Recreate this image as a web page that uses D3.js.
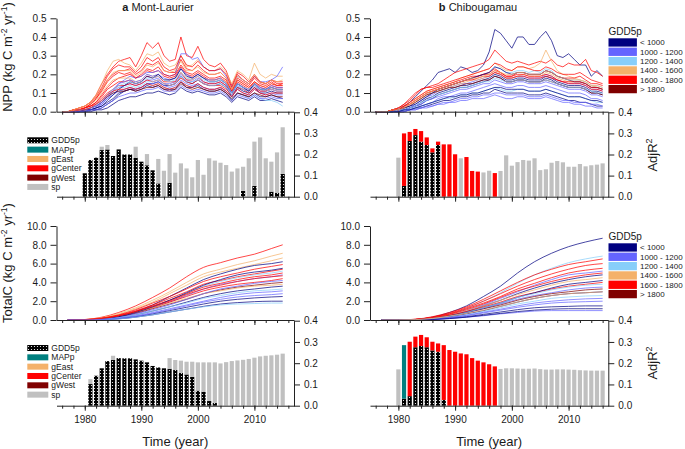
<!DOCTYPE html>
<html><head><meta charset="utf-8">
<script src="https://cdn.jsdelivr.net/npm/d3@7"></script>
<style>
body{margin:0;background:#fff;}
svg text{font-family:Arial,"Liberation Sans",sans-serif;fill:#1a1a1a;}
</style></head><body>
<svg id="chart" width="685" height="449"></svg>
<script>
// ---------------- DATA ----------------
const gddClasses = ["< 1000","1000 - 1200","1200 - 1400","1400 - 1600","1600 - 1800","> 1800"];
const gddColors  = ["#000080","#6464FF","#87CEFA","#F4B16A","#FF0000","#800000"];
const barLegend  = ["GDD5p","MAPp","gEast","gCenter","gWest","sp"];
const yearTicks  = [1980,1990,2000,2010];
const nppTicks   = [0,0.1,0.2,0.3,0.4,0.5];
const tcTicks    = [0,2,4,6,8,10];
const r2Ticks    = [0,0.1,0.2,0.3,0.4];

// NPP lines, Mont-Laurier, 1976-2015
const nppYearsA = [1976,1977,1978,1979,1980,1981,1982,1983,1984,1985,1986,1987,1988,1989,1990,1991,1992,1993,1994,1995,1996,1997,1998,1999,2000,2001,2002,2003,2004,2005,2006,2007,2008,2009,2010,2011,2012,2013,2014,2015];
const nppA_class = [4,3,4,4,1,0,0,2,1,4,3,0,1,4,5,2,4,1,4,0,2,4,1,3];
const nppA_values = [
[.00,.00,.01,.02,.03,.05,.09,.15,.20,.24,.27,.28,.29,.24,.30,.37,.34,.37,.30,.27,.28,.40,.30,.29,.35,.28,.25,.24,.26,.22,.14,.21,.19,.16,.20,.16,.15,.17,.15,.15],
[.00,.00,.01,.02,.03,.05,.09,.15,.22,.27,.28,.26,.25,.22,.26,.31,.30,.32,.26,.24,.25,.30,.24,.25,.28,.24,.22,.22,.24,.21,.15,.22,.20,.17,.26,.20,.18,.20,.19,.19],
[.00,.00,.01,.01,.02,.04,.07,.12,.17,.20,.22,.22,.23,.20,.22,.26,.25,.27,.22,.21,.21,.28,.23,.22,.25,.22,.20,.20,.21,.18,.12,.18,.16,.14,.18,.15,.14,.16,.14,.15],
[.00,.00,.00,.01,.02,.03,.05,.09,.13,.16,.18,.19,.20,.18,.19,.22,.21,.22,.19,.18,.19,.24,.20,.19,.21,.19,.17,.17,.18,.16,.11,.16,.14,.12,.16,.13,.12,.14,.13,.13],
[.00,.00,.00,.00,.01,.01,.02,.04,.07,.11,.15,.17,.19,.18,.19,.21,.21,.22,.20,.19,.20,.31,.31,.28,.29,.24,.22,.22,.23,.19,.13,.19,.17,.15,.19,.16,.16,.17,.19,.24],
[.00,.00,.00,.00,.00,.01,.01,.02,.04,.06,.09,.11,.12,.12,.13,.15,.15,.16,.14,.14,.15,.19,.16,.15,.17,.15,.14,.14,.15,.13,.08,.13,.11,.10,.13,.10,.10,.11,.10,.10],
[.00,.00,.00,.00,.00,.00,.01,.01,.02,.04,.06,.07,.08,.08,.09,.10,.10,.11,.10,.09,.10,.13,.11,.10,.11,.10,.09,.09,.10,.08,.05,.08,.07,.06,.08,.06,.06,.07,.06,.05],
[.00,.00,.00,.01,.01,.02,.03,.05,.07,.10,.11,.12,.13,.12,.13,.15,.14,.15,.13,.12,.13,.16,.14,.13,.15,.13,.12,.12,.13,.11,.07,.10,.09,.07,.09,.07,.06,.06,.05,.03],
[.00,.00,.00,.01,.01,.02,.03,.05,.08,.11,.13,.14,.15,.14,.15,.17,.17,.18,.15,.15,.16,.20,.17,.16,.18,.16,.15,.15,.16,.14,.09,.14,.12,.11,.14,.11,.11,.12,.11,.11],
[.00,.00,.00,.01,.02,.03,.05,.08,.12,.14,.16,.16,.17,.15,.16,.19,.18,.19,.16,.16,.16,.21,.17,.17,.19,.16,.15,.15,.16,.14,.10,.15,.13,.11,.15,.12,.11,.13,.12,.12],
[.00,.00,.01,.01,.02,.04,.06,.10,.14,.17,.18,.18,.18,.16,.17,.20,.19,.20,.17,.17,.18,.21,.18,.18,.20,.18,.17,.17,.18,.16,.11,.17,.15,.13,.16,.14,.13,.15,.14,.14],
[.00,.00,.00,.00,.01,.01,.02,.03,.05,.07,.10,.11,.12,.11,.12,.14,.13,.14,.12,.12,.12,.16,.13,.13,.14,.12,.11,.11,.12,.10,.06,.10,.09,.08,.10,.08,.08,.09,.08,.07],
[.00,.00,.00,.00,.01,.02,.03,.04,.07,.09,.11,.12,.13,.12,.13,.15,.15,.16,.14,.13,.14,.17,.15,.14,.15,.13,.12,.12,.13,.11,.08,.12,.10,.09,.12,.10,.09,.10,.09,.09],
[.00,.00,.00,.01,.02,.03,.04,.07,.10,.12,.14,.14,.15,.14,.15,.17,.16,.17,.15,.14,.15,.18,.16,.15,.17,.15,.14,.14,.14,.12,.09,.13,.12,.10,.13,.11,.11,.12,.11,.11],
[.00,.00,.00,.01,.01,.02,.03,.05,.08,.10,.11,.11,.12,.11,.12,.13,.13,.14,.12,.11,.12,.15,.13,.12,.13,.12,.11,.11,.12,.10,.07,.10,.09,.08,.10,.09,.08,.09,.08,.08],
[.00,.00,.00,.01,.01,.02,.03,.06,.09,.11,.13,.13,.14,.13,.14,.16,.16,.17,.15,.14,.15,.19,.16,.16,.17,.15,.14,.14,.15,.13,.09,.14,.12,.11,.14,.12,.11,.12,.11,.11],
[.00,.00,.01,.02,.03,.05,.08,.13,.19,.23,.25,.24,.24,.21,.24,.29,.27,.29,.24,.22,.23,.30,.25,.24,.27,.24,.22,.22,.23,.20,.13,.20,.17,.15,.19,.16,.15,.17,.16,.16],
[.00,.00,.00,.00,.01,.02,.03,.05,.09,.12,.15,.16,.17,.16,.17,.20,.19,.20,.18,.17,.18,.23,.20,.18,.20,.18,.17,.17,.18,.15,.10,.15,.13,.12,.15,.13,.12,.14,.13,.13],
[.00,.00,.01,.01,.02,.04,.07,.11,.16,.19,.21,.20,.21,.18,.20,.23,.22,.24,.20,.19,.20,.25,.21,.20,.22,.20,.18,.18,.19,.17,.11,.17,.15,.13,.16,.14,.13,.15,.14,.14],
[.00,.00,.00,.00,.01,.01,.02,.03,.06,.09,.12,.14,.16,.15,.16,.19,.18,.20,.17,.17,.18,.23,.19,.18,.20,.18,.16,.16,.17,.15,.10,.15,.13,.11,.15,.12,.12,.13,.12,.12],
[.00,.00,.00,.01,.01,.02,.04,.06,.09,.12,.14,.15,.16,.15,.16,.18,.18,.19,.17,.16,.17,.21,.18,.17,.19,.17,.16,.16,.17,.15,.10,.15,.13,.12,.15,.12,.12,.13,.12,.12],
[.00,.00,.00,.01,.01,.02,.04,.06,.09,.11,.12,.12,.13,.12,.13,.15,.14,.15,.13,.12,.13,.16,.14,.13,.15,.13,.12,.12,.13,.11,.08,.12,.10,.09,.12,.10,.09,.10,.10,.10],
[.00,.00,.00,.00,.00,.01,.01,.02,.04,.06,.08,.09,.10,.10,.11,.12,.12,.13,.11,.11,.11,.14,.12,.11,.12,.11,.10,.10,.11,.09,.06,.09,.08,.07,.09,.07,.07,.08,.07,.07],
[.00,.00,.01,.02,.03,.05,.08,.12,.17,.21,.22,.22,.22,.19,.21,.25,.24,.26,.22,.21,.22,.27,.22,.22,.24,.21,.20,.20,.21,.18,.12,.19,.17,.15,.20,.16,.15,.17,.16,.17]
];

// NPP lines, Chibougamau, 1976-2016
const nppYearsB = [1976,1977,1978,1979,1980,1981,1982,1983,1984,1985,1986,1987,1988,1989,1990,1991,1992,1993,1994,1995,1996,1997,1998,1999,2000,2001,2002,2003,2004,2005,2006,2007,2008,2009,2010,2011,2012,2013,2014,2015,2016];
const nppB_class = [0,4,3,2,1,0,4,1,0,2,3,1,4,0,5,1,4,0,4,1,2,0,3];
const nppB_values = [
[.00,.00,.00,.01,.02,.03,.05,.08,.11,.14,.17,.21,.22,.23,.21,.24,.23,.21,.22,.25,.32,.44,.42,.38,.34,.40,.40,.36,.36,.40,.43,.38,.30,.29,.31,.28,.25,.25,.19,.22,.19],
[.00,.00,.00,.01,.02,.04,.06,.09,.12,.13,.14,.15,.17,.19,.21,.22,.23,.24,.25,.26,.28,.33,.30,.27,.26,.27,.26,.25,.26,.27,.26,.28,.25,.24,.26,.25,.25,.28,.22,.21,.19],
[.00,.00,.00,.01,.02,.03,.05,.07,.09,.11,.12,.13,.14,.15,.16,.18,.19,.20,.21,.22,.23,.26,.24,.22,.22,.24,.24,.23,.24,.26,.33,.27,.22,.20,.19,.18,.17,.16,.14,.13,.12],
[.00,.00,.00,.00,.01,.02,.03,.05,.07,.09,.11,.12,.13,.14,.15,.16,.17,.18,.19,.20,.21,.24,.23,.21,.21,.22,.22,.21,.22,.21,.23,.22,.19,.18,.17,.17,.17,.16,.14,.14,.13],
[.00,.00,.00,.00,.01,.01,.02,.04,.06,.08,.09,.11,.12,.13,.14,.15,.15,.16,.17,.18,.19,.21,.20,.18,.18,.19,.19,.18,.18,.18,.20,.19,.17,.16,.15,.15,.15,.14,.12,.12,.11],
[.00,.00,.00,.00,.00,.01,.02,.03,.04,.06,.07,.09,.10,.11,.12,.13,.13,.14,.15,.16,.17,.19,.18,.16,.16,.17,.17,.16,.16,.16,.18,.17,.15,.14,.13,.13,.13,.12,.10,.10,.09],
[.00,.00,.00,.01,.01,.02,.04,.06,.08,.10,.11,.12,.13,.14,.15,.16,.17,.18,.19,.20,.21,.23,.21,.19,.19,.21,.21,.20,.20,.20,.22,.21,.19,.18,.18,.18,.19,.17,.15,.15,.14],
[.00,.00,.00,.00,.00,.01,.01,.02,.03,.04,.05,.07,.08,.08,.09,.10,.10,.11,.12,.13,.14,.15,.14,.13,.13,.14,.14,.13,.13,.13,.14,.13,.12,.11,.10,.10,.10,.09,.07,.07,.06],
[.00,.00,.00,.00,.00,.00,.01,.02,.02,.03,.04,.05,.06,.06,.07,.08,.08,.09,.09,.10,.10,.12,.11,.10,.10,.10,.10,.09,.09,.09,.10,.09,.08,.07,.06,.06,.05,.05,.04,.03,.03],
[.00,.00,.00,.00,.00,.01,.01,.02,.03,.04,.05,.06,.07,.07,.08,.09,.09,.10,.10,.11,.12,.13,.12,.11,.11,.12,.12,.11,.11,.11,.12,.11,.10,.09,.08,.08,.08,.07,.06,.05,.05],
[.00,.00,.00,.01,.01,.02,.04,.05,.07,.09,.10,.11,.12,.13,.14,.15,.16,.17,.17,.18,.19,.21,.20,.18,.18,.19,.20,.19,.19,.19,.21,.20,.18,.17,.16,.16,.16,.15,.13,.13,.12],
[.00,.00,.00,.00,.00,.00,.01,.01,.02,.02,.03,.04,.04,.05,.05,.06,.06,.07,.07,.07,.08,.09,.08,.07,.07,.08,.08,.07,.07,.07,.08,.07,.06,.05,.05,.04,.04,.03,.03,.02,.02],
[.00,.00,.00,.01,.01,.03,.05,.07,.09,.11,.12,.13,.14,.15,.16,.17,.18,.19,.19,.20,.20,.22,.21,.19,.19,.20,.20,.19,.19,.19,.20,.19,.17,.16,.15,.15,.15,.14,.12,.12,.11],
[.00,.00,.00,.00,.01,.01,.02,.03,.05,.07,.08,.10,.11,.12,.13,.14,.14,.15,.16,.17,.18,.20,.19,.17,.17,.18,.18,.17,.17,.17,.19,.18,.16,.15,.14,.14,.14,.13,.11,.11,.10],
[.00,.00,.00,.01,.01,.02,.03,.05,.07,.09,.10,.11,.12,.13,.13,.14,.15,.15,.16,.17,.17,.19,.18,.16,.16,.17,.17,.16,.16,.16,.17,.16,.15,.14,.13,.13,.13,.12,.10,.10,.09],
[.00,.00,.00,.00,.01,.01,.02,.03,.04,.06,.07,.08,.09,.10,.11,.12,.12,.13,.14,.15,.15,.17,.16,.15,.15,.16,.16,.15,.15,.15,.16,.15,.14,.13,.12,.12,.12,.11,.09,.09,.08],
[.00,.00,.00,.01,.02,.04,.07,.10,.12,.13,.13,.14,.15,.16,.17,.18,.19,.20,.21,.22,.23,.26,.25,.23,.22,.24,.24,.23,.22,.22,.24,.23,.21,.20,.20,.20,.21,.19,.17,.16,.15],
[.00,.00,.00,.00,.01,.02,.03,.04,.06,.08,.10,.12,.13,.14,.15,.16,.17,.18,.19,.20,.21,.24,.23,.21,.20,.21,.21,.20,.20,.20,.22,.21,.19,.18,.17,.16,.16,.15,.13,.13,.12],
[.00,.00,.00,.01,.01,.03,.04,.06,.08,.10,.11,.12,.13,.14,.15,.16,.17,.17,.18,.19,.19,.21,.20,.18,.18,.19,.19,.18,.18,.18,.19,.18,.17,.16,.16,.16,.16,.15,.13,.13,.12],
[.00,.00,.00,.00,.00,.00,.01,.01,.02,.03,.03,.04,.05,.05,.06,.07,.07,.08,.08,.09,.09,.10,.10,.09,.09,.09,.09,.08,.08,.08,.09,.08,.07,.06,.06,.05,.05,.05,.04,.04,.03],
[.00,.00,.00,.00,.01,.01,.02,.03,.05,.06,.08,.09,.10,.11,.12,.13,.13,.14,.15,.16,.16,.18,.17,.16,.16,.17,.17,.16,.16,.16,.17,.16,.15,.14,.13,.13,.13,.12,.11,.10,.10],
[.00,.00,.00,.00,.00,.01,.01,.02,.03,.04,.05,.06,.07,.08,.08,.09,.09,.10,.10,.11,.12,.13,.13,.12,.12,.12,.12,.11,.11,.11,.12,.11,.10,.09,.08,.08,.08,.07,.06,.06,.05],
[.00,.00,.00,.01,.01,.02,.04,.06,.08,.10,.11,.12,.13,.14,.15,.16,.17,.18,.18,.19,.20,.22,.21,.20,.20,.21,.21,.20,.20,.20,.22,.21,.19,.18,.17,.17,.17,.16,.14,.14,.13]
];

// TotalC lines, Mont-Laurier
const tcYearsA = [1977,1980,1983,1986,1989,1992,1995,1998,2001,2004,2007,2010,2013,2015];
const tcA_class = [4,3,3,0,4,4,2,1,4,5,0,1,3,0,0,2,4,1,0,2,4,1];
const tcA_values = [
[0,.05,.3,.8,1.5,2.4,3.4,4.6,5.6,6.1,6.6,7.0,7.6,8.0],
[0,.05,.25,.7,1.3,2.1,3.0,4.0,4.9,5.4,5.9,6.3,6.8,7.1],
[0,.04,.22,.6,1.2,1.9,2.8,3.7,4.6,5.1,5.5,5.9,6.3,6.6],
[0,0,.1,.4,.9,1.6,2.5,3.4,4.3,4.9,5.4,5.8,6.0,6.2],
[0,.04,.2,.55,1.1,1.8,2.5,3.3,4.1,4.6,5.0,5.4,5.7,5.9],
[0,.03,.18,.5,1.0,1.6,2.3,3.0,3.8,4.2,4.6,4.9,5.2,5.4],
[0,.02,.12,.4,.8,1.4,2.1,2.8,3.6,4.1,4.5,4.8,5.0,5.2],
[0,.01,.1,.35,.75,1.3,1.9,2.6,3.3,3.8,4.1,4.4,4.6,4.8],
[0,.02,.15,.4,.8,1.3,1.9,2.5,3.1,3.5,3.8,4.0,4.2,4.4],
[0,.02,.12,.35,.7,1.2,1.7,2.2,2.8,3.2,3.5,3.7,3.9,4.0],
[0,0,.06,.25,.55,.95,1.4,1.9,2.4,2.8,3.1,3.3,3.5,3.6],
[0,0,.05,.2,.45,.8,1.2,1.6,2.0,2.4,2.7,2.9,3.0,3.1],
[0,.03,.15,.4,.8,1.3,1.8,2.3,2.8,3.1,3.4,3.6,3.7,3.8],
[0,0,.04,.15,.35,.65,1.0,1.35,1.7,2.0,2.2,2.35,2.45,2.5],
[0,0,.03,.12,.3,.55,.85,1.15,1.45,1.7,1.85,1.95,2.0,2.0],
[0,0,.03,.12,.3,.55,.85,1.15,1.4,1.6,1.7,1.75,1.8,1.8],
[0,.03,.16,.45,.9,1.5,2.1,2.8,3.5,3.9,4.3,4.6,4.8,5.0],
[0,.01,.08,.3,.65,1.1,1.6,2.2,2.8,3.3,3.6,3.9,4.1,4.2],
[0,0,.08,.35,.8,1.4,2.1,2.9,3.7,4.3,4.8,5.1,5.3,5.5],
[0,.01,.08,.25,.55,.95,1.4,1.8,2.3,2.6,2.9,3.1,3.2,3.3],
[0,.03,.16,.45,.9,1.45,2.0,2.7,3.3,3.7,4.1,4.4,4.6,4.7],
[0,0,.05,.18,.4,.72,1.1,1.5,1.9,2.2,2.45,2.6,2.7,2.8]
];

// TotalC lines, Chibougamau
const tcYearsB = [1977,1980,1983,1986,1989,1992,1995,1998,2001,2004,2007,2010,2013,2016];
const tcB_class = [0,2,4,4,4,1,0,3,4,1,0,5,2,1,0,1,0,4,1,2,0,3];
const tcB_values = [
[0,0,.05,.3,.8,1.5,2.5,3.6,5.0,6.2,7.1,7.8,8.3,8.7],
[0,0,.05,.25,.6,1.2,2.0,2.9,3.9,4.8,5.5,6.1,6.5,6.8],
[0,.01,.08,.35,.8,1.4,2.2,3.1,4.0,4.8,5.4,5.9,6.2,6.5],
[0,.01,.07,.3,.7,1.3,2.0,2.8,3.6,4.3,4.9,5.4,5.8,6.0],
[0,.01,.06,.28,.65,1.2,1.8,2.5,3.3,3.9,4.5,5.0,5.3,5.5],
[0,0,.04,.2,.5,1.0,1.6,2.3,3.0,3.7,4.3,4.8,5.0,5.2],
[0,0,.03,.18,.45,.9,1.5,2.1,2.8,3.4,3.9,4.3,4.6,4.8],
[0,.01,.05,.22,.55,1.0,1.5,2.1,2.7,3.2,3.7,4.1,4.3,4.5],
[0,.01,.05,.2,.5,.9,1.4,1.9,2.5,2.9,3.3,3.6,3.8,4.0],
[0,0,.03,.15,.4,.75,1.2,1.7,2.2,2.6,2.9,3.2,3.4,3.5],
[0,0,.02,.12,.32,.65,1.0,1.45,1.9,2.3,2.6,2.8,2.9,3.0],
[0,.01,.04,.18,.45,.8,1.2,1.6,2.1,2.5,2.8,3.0,3.2,3.3],
[0,0,.02,.1,.3,.55,.9,1.3,1.7,2.0,2.3,2.45,2.55,2.6],
[0,0,.02,.08,.25,.45,.75,1.05,1.35,1.6,1.8,1.9,1.95,2.0],
[0,0,.01,.06,.18,.35,.6,.85,1.1,1.3,1.4,1.45,1.5,1.5],
[0,0,.01,.05,.15,.3,.45,.65,.8,.95,1.0,1.0,1.0,1.0],
[0,0,.03,.15,.4,.8,1.3,1.8,2.4,2.9,3.4,3.8,4.0,4.2],
[0,.01,.06,.25,.6,1.1,1.7,2.4,3.1,3.6,4.1,4.5,4.8,5.0],
[0,0,.02,.09,.27,.5,.82,1.15,1.5,1.8,2.0,2.15,2.25,2.3],
[0,0,.03,.16,.42,.8,1.3,1.8,2.4,2.8,3.2,3.5,3.7,3.8],
[0,0,.01,.05,.15,.3,.5,.7,.9,1.05,1.15,1.2,1.2,1.2],
[0,.01,.04,.16,.4,.7,1.05,1.45,1.9,2.3,2.6,2.8,2.9,3.0]
];

// AdjR2 bars (stacked components)
const barYearsA1 = [1980,1981,1982,1983,1984,1985,1986,1987,1988,1989,1990,1991,1992,1993,1994,1995,1996,1997,1998,1999,2000,2001,2002,2003,2004,2005,2006,2007,2008,2009,2010,2011,2012,2013,2014,2015];
const nppA_gdd = [.111,.174,.185,.221,.224,.193,.224,.200,.200,.185,.166,.149,.125,.063,0,.066,0,0,0,0,0,0,0,0,0,0,0,0,.028,0,.051,0,0,.024,.019,.108];
const nppA_sp  = [0,0,0,.016,.021,0,0,0,0,.052,0,.053,0,.116,.123,.136,.114,.158,.134,.092,.174,.104,.182,.171,.161,.150,.119,.134,.114,.182,.210,.281,.182,.142,.191,.221];

const barYearsB = [1980,1981,1982,1983,1984,1985,1986,1987,1988,1989,1990,1991,1992,1993,1994,1995,1996,1997,1998,1999,2000,2001,2002,2003,2004,2005,2006,2007,2008,2009,2010,2011,2012,2013,2014,2015,2016];
const nppB_gdd     = [0,.051,.264,.292,.261,.245,.210,.245,0,0,0,0,0,0,0,0,0,0,0,0,0,0,0,0,0,0,0,0,0,0,0,0,0,0,0,0,0];
const nppB_gcenter = [0,.249,.043,.029,.050,.036,.019,.016,.248,.248,.201,0,.188,.122,.119,0,0,.112,0,0,0,0,0,0,0,0,0,0,0,0,0,0,0,0,0,0,0];
const nppB_sp      = [.185,0,0,0,0,0,0,0,0,0,0,.182,0,0,0,.115,.123,0,.122,.196,.147,.164,.174,.171,.182,.126,.130,.161,.169,.163,.142,.142,.155,.144,.149,.152,.158];

const barYearsA2 = [1981,1982,1983,1984,1985,1986,1987,1988,1989,1990,1991,1992,1993,1994,1995,1996,1997,1998,1999,2000,2001,2002,2003,2004,2005,2006,2007,2008,2009,2010,2011,2012,2013,2014,2015];
const tcA_gdd = [.102,.141,.176,.210,.215,.224,.223,.223,.218,.212,.204,.187,.180,.176,.174,.168,.155,.147,.136,.071,.066,.022,.013,0,0,0,0,0,0,0,0,0,0,0,0];
const tcA_sp  = [.023,0,0,0,.020,0,0,0,0,0,0,0,0,0,.050,.047,.057,.060,.071,.133,.138,.182,.191,.199,.205,.210,.213,.216,.220,.226,.232,.235,.237,.240,.245];

const tcB_gdd     = [0,.033,.045,.275,.281,.275,.260,.254,.027,0,0,0,0,0,0,0,0,0,0,0,0,0,0,0,0,0,0,0,0,0,0,0,0,0,0,0,0];
const tcB_mapp    = [0,.252,0,0,0,0,0,0,0,0,0,0,0,0,0,0,0,0,0,0,0,0,0,0,0,0,0,0,0,0,0,0,0,0,0,0,0];
const tcB_gcenter = [0,0,.256,.050,.052,.047,.041,.039,.258,.262,.254,.246,.242,.224,.212,.204,.195,.185,0,0,0,0,0,0,0,0,0,0,0,0,0,0,0,0,0,0,0];
const tcB_sp      = [.171,0,0,0,0,0,0,0,0,0,0,0,0,0,0,0,0,0,.173,.176,.176,.175,.174,.174,.175,.172,.170,.170,.171,.171,.170,.169,.167,.166,.165,.165,.165];

// ---------------- DRAW ----------------
const svg = d3.select("#chart");
const defs = svg.append("defs");
const pat = defs.append("pattern").attr("id","dots").attr("patternUnits","userSpaceOnUse")
  .attr("width",3).attr("height",3);
pat.append("rect").attr("width",3).attr("height",3).attr("fill","#000");
pat.append("circle").attr("cx",1.5).attr("cy",1.5).attr("r",0.6).attr("fill","#fff");

const compFill = {gdd:"url(#dots)", mapp:"#008080", geast:"#F4B16A", gcenter:"#FF0000", gwest:"#800000", sp:"#C0C0C0"};
const legendFills = [compFill.gdd, compFill.mapp, compFill.geast, compFill.gcenter, compFill.gwest, compFill.sp];

const colX0 = [56.5, 370], colX1 = [294, 608.3];
const xScales = [0,1].map(i => d3.scaleLinear().domain([1975,2017]).range([colX0[i], colX1[i]]));
const yNPP  = d3.scaleLinear().domain([0,0.5]).range([111.7,18.3]);
const yBar1 = d3.scaleLinear().domain([0,0.4]).range([196.7,112.3]);
const yTC   = d3.scaleLinear().domain([0,10]).range([320,226]);
const yBar2 = d3.scaleLinear().domain([0,0.4]).range([405.7,320.7]);
const minorYears = d3.range(1976, 2017, 2);

function styleAxis(g){
  g.selectAll("path,line").attr("stroke","#222").attr("stroke-width",1);
  g.selectAll("text").attr("font-size",10).attr("font-family","Arial, 'Liberation Sans', sans-serif").attr("fill","#1a1a1a");
}
function xAxis(x, y, labels){
  const g1 = svg.append("g").attr("transform",`translate(0,${y})`)
    .call(d3.axisBottom(x).tickValues(minorYears).tickSize(3).tickSizeOuter(0).tickFormat(""));
  styleAxis(g1);
  const g2 = svg.append("g").attr("transform",`translate(0,${y})`)
    .call(d3.axisBottom(x).tickValues(yearTicks).tickSize(5).tickSizeOuter(0).tickPadding(5)
      .tickFormat(labels ? d3.format("d") : ""));
  g2.select(".domain").remove();
  styleAxis(g2);
}
function leftAxis(x0, y, ticks){
  const g = svg.append("g").attr("transform",`translate(${x0},0)`)
    .call(d3.axisLeft(y).tickValues(ticks).tickSize(6).tickSizeOuter(0).tickPadding(4).tickFormat(d3.format(".1f")));
  styleAxis(g);
}
function rightAxis(x1, y){
  const g = svg.append("g").attr("transform",`translate(${x1},0)`)
    .call(d3.axisRight(y).tickValues(r2Ticks).tickSize(6).tickSizeOuter(0).tickPadding(4).tickFormat(d3.format(".1f")));
  styleAxis(g);
}
function drawLines(x, y, years, values, classes, curve){
  const line = d3.line().x((d,i)=>x(years[i])).y(d=>y(d)).curve(curve);
  svg.append("g").selectAll("path").data(values).join("path")
    .attr("d", line).attr("fill","none")
    .attr("stroke",(d,i)=>gddColors[classes[i]])
    .attr("stroke-width",0.85).attr("stroke-opacity",0.85);
}
function drawBars(x, y, years, comps){
  const g = svg.append("g");
  const bw = 4.2;
  years.forEach((yr,i)=>{
    let base = 0;
    comps.forEach(c=>{
      const v = c.values[i];
      if (v > 0){
        g.append("rect").attr("x", x(yr)-bw/2).attr("width", bw)
          .attr("y", y(base+v)).attr("height", y(base)-y(base+v))
          .attr("fill", c.fill);
        base += v;
      }
    });
  });
}
function barLegendAt(x, y){
  const g = svg.append("g");
  barLegend.forEach((lab,i)=>{
    g.append("rect").attr("x",x).attr("y",y+i*9.33).attr("width",21).attr("height",6).attr("fill",legendFills[i]);
    g.append("text").attr("x",x+24).attr("y",y+i*9.33+6).attr("font-size",8.5).attr("fill","#333").text(lab);
  });
}
function colorLegendAt(x, y){
  const g = svg.append("g");
  g.append("text").attr("x",x).attr("y",y).attr("font-size",10).text("GDD5p");
  gddClasses.forEach((lab,i)=>{
    g.append("rect").attr("x",x).attr("y",y+3.3+i*9.33).attr("width",28.4).attr("height",8.3).attr("fill",gddColors[i]);
    g.append("text").attr("x",x+31.5).attr("y",y+3.3+i*9.33+7).attr("font-size",8).attr("fill","#222").text(lab);
  });
}

const xa = xScales[0], xb = xScales[1];
drawLines(xa, yNPP, nppYearsA, nppA_values, nppA_class, d3.curveLinear);
drawLines(xb, yNPP, nppYearsB, nppB_values, nppB_class, d3.curveLinear);
drawLines(xa, yTC, tcYearsA, tcA_values, tcA_class, d3.curveMonotoneX);
drawLines(xb, yTC, tcYearsB, tcB_values, tcB_class, d3.curveMonotoneX);

drawBars(xa, yBar1, barYearsA1, [{values:nppA_gdd, fill:compFill.gdd},{values:nppA_sp, fill:compFill.sp}]);
drawBars(xb, yBar1, barYearsB, [{values:nppB_gdd, fill:compFill.gdd},{values:nppB_gcenter, fill:compFill.gcenter},{values:nppB_sp, fill:compFill.sp}]);
drawBars(xa, yBar2, barYearsA2, [{values:tcA_gdd, fill:compFill.gdd},{values:tcA_sp, fill:compFill.sp}]);
drawBars(xb, yBar2, barYearsB, [{values:tcB_gdd, fill:compFill.gdd},{values:tcB_mapp, fill:compFill.mapp},{values:tcB_gcenter, fill:compFill.gcenter},{values:tcB_sp, fill:compFill.sp}]);

[0,1].forEach(i=>{
  const x = xScales[i];
  xAxis(x, yNPP(0), false);
  xAxis(x, yBar1(0), false);
  xAxis(x, yTC(0), false);
  xAxis(x, yBar2(0), true);
  leftAxis(colX0[i], yNPP, nppTicks);
  leftAxis(colX0[i], yTC, tcTicks);
  rightAxis(colX1[i], yBar1);
  rightAxis(colX1[i], yBar2);
});

barLegendAt(27.3, 137.3);
barLegendAt(27.3, 345);
colorLegendAt(608.5, 35);
colorLegendAt(608.5, 240);

function title(xc, letter, name){
  const t = svg.append("text").attr("x",xc).attr("y",11).attr("text-anchor","middle").attr("font-size",11);
  t.append("tspan").attr("font-weight","bold").text(letter);
  t.append("tspan").text(" " + name);
}
title(158, "a", "Mont-Laurier");
title(478, "b", "Chibougamau");

function yTitle(x, yc, main){
  const t = svg.append("text").attr("transform",`translate(${x},${yc}) rotate(-90)`).attr("text-anchor","middle").attr("font-size",13);
  t.append("tspan").text(main + " (kg C m");
  t.append("tspan").attr("dy",-5).attr("font-size",8.5).text("-2");
  t.append("tspan").attr("dy",5).text(" yr");
  t.append("tspan").attr("dy",-5).attr("font-size",8.5).text("-1");
  t.append("tspan").attr("dy",5).text(")");
}
yTitle(12, 57, "NPP");
yTitle(12, 263, "TotalC");

function r2Title(x, yc){
  const t = svg.append("text").attr("transform",`translate(${x},${yc}) rotate(-90)`).attr("text-anchor","middle").attr("font-size",13);
  t.append("tspan").text("AdjR");
  t.append("tspan").attr("dy",-5).attr("font-size",9).text("2");
}
r2Title(657, 155);
r2Title(657, 363);

[0,1].forEach(i=>{
  svg.append("text").attr("x",(colX0[i]+colX1[i])/2).attr("y",446).attr("text-anchor","middle").attr("font-size",13).text("Time (year)");
});
</script>
</body></html>
